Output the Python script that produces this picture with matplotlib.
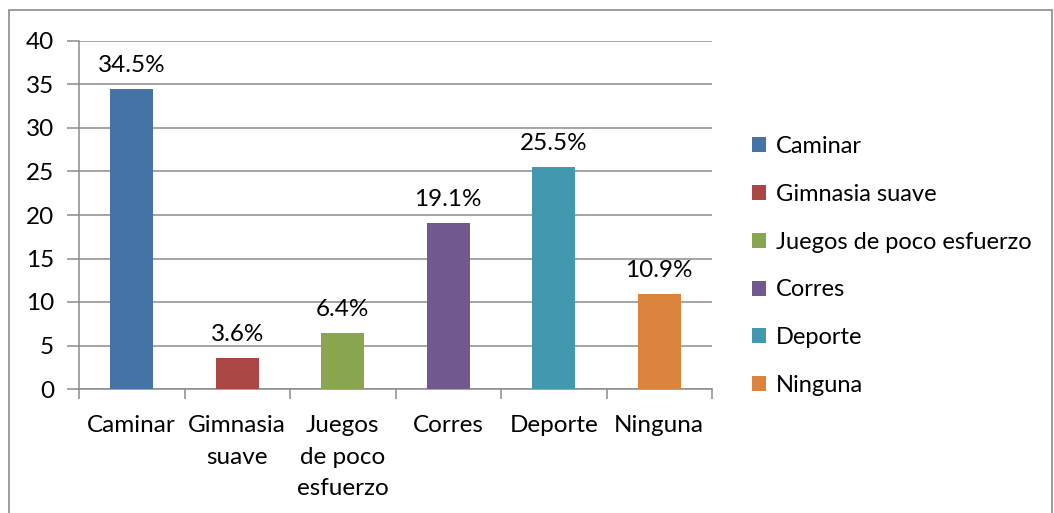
import numpy as np
import matplotlib.pyplot as plt
from matplotlib.patches import Rectangle, Patch

# ── Data ─────────────────────────────────────────────────────────────────────
categories = ['Caminar', 'Gimnasia suave', 'Juegos de poco esfuerzo',
              'Corres', 'Deporte', 'Ninguna']
tick_labels = ['Caminar', 'Gimnasia\nsuave', 'Juegos\nde poco\nesfuerzo',
               'Corres', 'Deporte', 'Ninguna']
values = [34.5, 3.6, 6.4, 19.1, 25.5, 10.9]
bar_labels = ['34.5%', '3.6%', '6.4%', '19.1%', '25.5%', '10.9%']
colors = ['#4572A7', '#AA4643', '#89A54E', '#71588F', '#4198AF', '#DB843D']

plt.rcParams['font.family'] = ['Lato', 'DejaVu Sans']
FS = 17.5

W, H = 1054, 513
fig = plt.figure(figsize=(W / 100, H / 100), dpi=100)

# outer chart border
fig.patches.append(Rectangle((9 / W, -0.01), (1052 - 9) / W, (H - 10) / H + 0.01,
                             transform=fig.transFigure, fill=False,
                             edgecolor='#8c8c8c', linewidth=1.2))

ax = fig.add_axes([79 / W, (H - 389) / H, 633 / W, 348 / H])
x = np.arange(len(values))
bars = ax.bar(x, values, width=0.41, color=colors, zorder=3)

for b, lab in zip(bars, bar_labels):
    ax.text(b.get_x() + b.get_width() / 2, b.get_height() + 1.5, lab,
            ha='center', va='bottom', fontsize=FS, color='black')

ax.set_xlim(-0.5, len(values) - 0.5)
ax.set_ylim(0, 40)
ax.set_yticks(range(0, 41, 5))
ax.yaxis.grid(True, color='#8c8c8c', linewidth=1.1, zorder=0)
ax.set_axisbelow(True)

ax.set_xticks(x)
ax.set_xticklabels(tick_labels, fontsize=FS, linespacing=1.6)
ax.set_xticks(np.arange(-0.5, len(values), 1), minor=True)
ax.tick_params(axis='x', which='major', length=0, pad=19)
ax.tick_params(axis='x', which='minor', length=7, color='#8c8c8c', width=1.1)
ax.tick_params(axis='y', length=9, color='#8c8c8c', width=1.1,
               labelsize=FS, pad=9)

for s in ['top', 'right']:
    ax.spines[s].set_visible(False)
for s in ['left', 'bottom']:
    ax.spines[s].set_color('#8c8c8c')
    ax.spines[s].set_linewidth(1.1)

handles = [Patch(facecolor=c, edgecolor='none') for c in colors]
fig.legend(handles, categories, loc='center left',
           bbox_to_anchor=(731 / W, (H - 266) / H), frameon=False,
           fontsize=17, handlelength=0.6, handleheight=0.6,
           handletextpad=0.4, labelspacing=1.13)

fig.savefig('out.png', dpi=100)
